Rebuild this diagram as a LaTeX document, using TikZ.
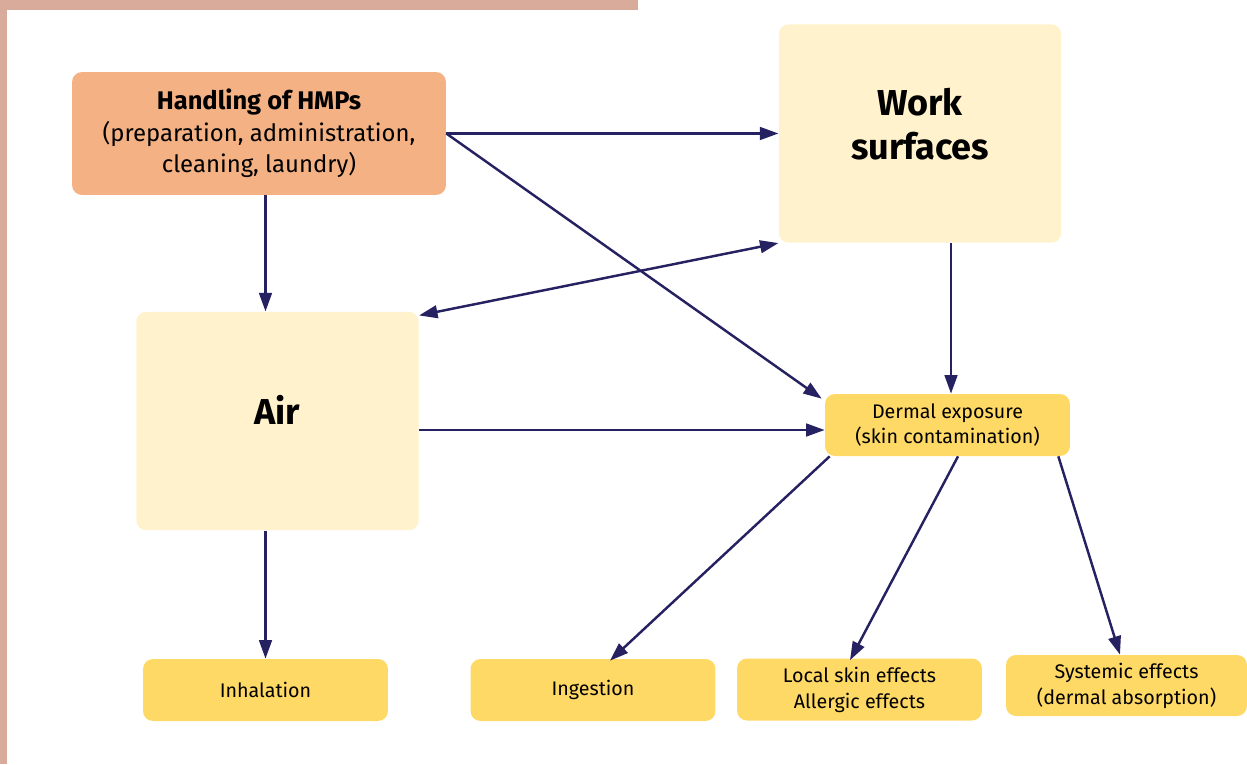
\documentclass[tikz,border=0pt]{standalone}
\usepackage{fontspec}
\setmainfont{Fira Sans}
\usepackage{tikz}
\usetikzlibrary{arrows.meta}
\usetikzlibrary{positioning}

\definecolor{framecol}{HTML}{D9AB9B}
\definecolor{handcol}{HTML}{F4B183}
\definecolor{palecol}{HTML}{FFF2CC}
\definecolor{goldcol}{HTML}{FFD966}
\definecolor{arrowcol}{HTML}{262262}

\begin{document}
\begin{tikzpicture}[x=0.02cm,y=-0.02cm,
	every node/.style={rounded corners=2mm, inner sep=0pt, align=center, text=black},
	handbox/.style={fill=handcol, minimum width=7.48cm, minimum height=2.46cm, font=\fontsize{13.6}{17.9}\selectfont},
	bigbox/.style={fill=palecol, minimum width=5.65cm, minimum height=4.37cm},
	bigtext/.style={font=\fontsize{20.5}{25}\selectfont\bfseries},
	smallbox/.style={fill=goldcol, minimum width=4.9cm, minimum height=1.24cm, font=\fontsize{11.2}{14.7}\selectfont},
	flow/.style={draw=arrowcol, line width=1.4pt, -{Triangle[length=10.5pt,width=7.2pt]}}]

	\useasboundingbox (0,0) rectangle (1247,764);
	% frame
	\fill[framecol] (0,0) rectangle (638,10);
	\fill[framecol] (0,0) rectangle (7,764);

	% boxes
	\node[handbox] (hand) at (259,133.5) {{\fontsize{14.5}{17.9}\selectfont\bfseries Handling of HMPs}\\(preparation, administration,\\cleaning, laundry)};
	\node[bigbox] (work) at (920,133.5) {};
	\node[bigtext] (worktext) at ([yshift=0.19cm]work.center) {Work\\surfaces};
	\node[bigbox] (air) at (277.5,421) {};
	\node[bigtext] (airtext) at ([yshift=0.22cm]air.center) {Air};
	\node[smallbox] (derm) at (947.5,425) {Dermal exposure\\(skin contamination)};
	\node[smallbox] (inh) at (265.5,690) {Inhalation};
	\node[smallbox] (ing) at (593,690) {Ingestion};
	\node[smallbox] (loc) at (859.5,689.5) {Local skin effects\\Allergic effects};
	\node[smallbox, minimum width=4.82cm, minimum height=1.22cm] (sys) at (1126.5,685.5) {Systemic effects\\(dermal absorption)};
	\coordinate (dermin) at ([yshift=-0.1cm]derm.west);

	% arrows
	\draw[flow] (hand.east) -- (work.west);
	\draw[flow] (hand.east) -- ([xshift=-0.06cm,yshift=-0.1cm]derm.north west);
	\draw[flow] (hand.south -| inh.north) -- (air.north -| inh.north);
	\draw[flow, {Triangle[length=10.5pt,width=7.2pt]}-{Triangle[length=10.5pt,width=7.2pt]}] (work.south west) -- ([yshift=-0.08cm]air.north east);
	\draw[flow] ([xshift=0.07cm]work.south -| derm.north) -- ([xshift=0.07cm]derm.north);
	\draw[flow] (air.east |- dermin) -- (dermin);
	\draw[flow] (air.south -| inh.north) -- (inh.north);
	\draw[flow] ([xshift=0.1cm]derm.south west) -- ([xshift=0.34cm,yshift=-0.04cm]ing.north);
	\draw[flow] ([xshift=0.21cm]derm.south) -- ([xshift=-0.19cm,yshift=-0.04cm]loc.north);
	\draw[flow] ([xshift=-0.24cm]derm.south east) -- ([xshift=-0.13cm]sys.north);
\end{tikzpicture}
\end{document}
